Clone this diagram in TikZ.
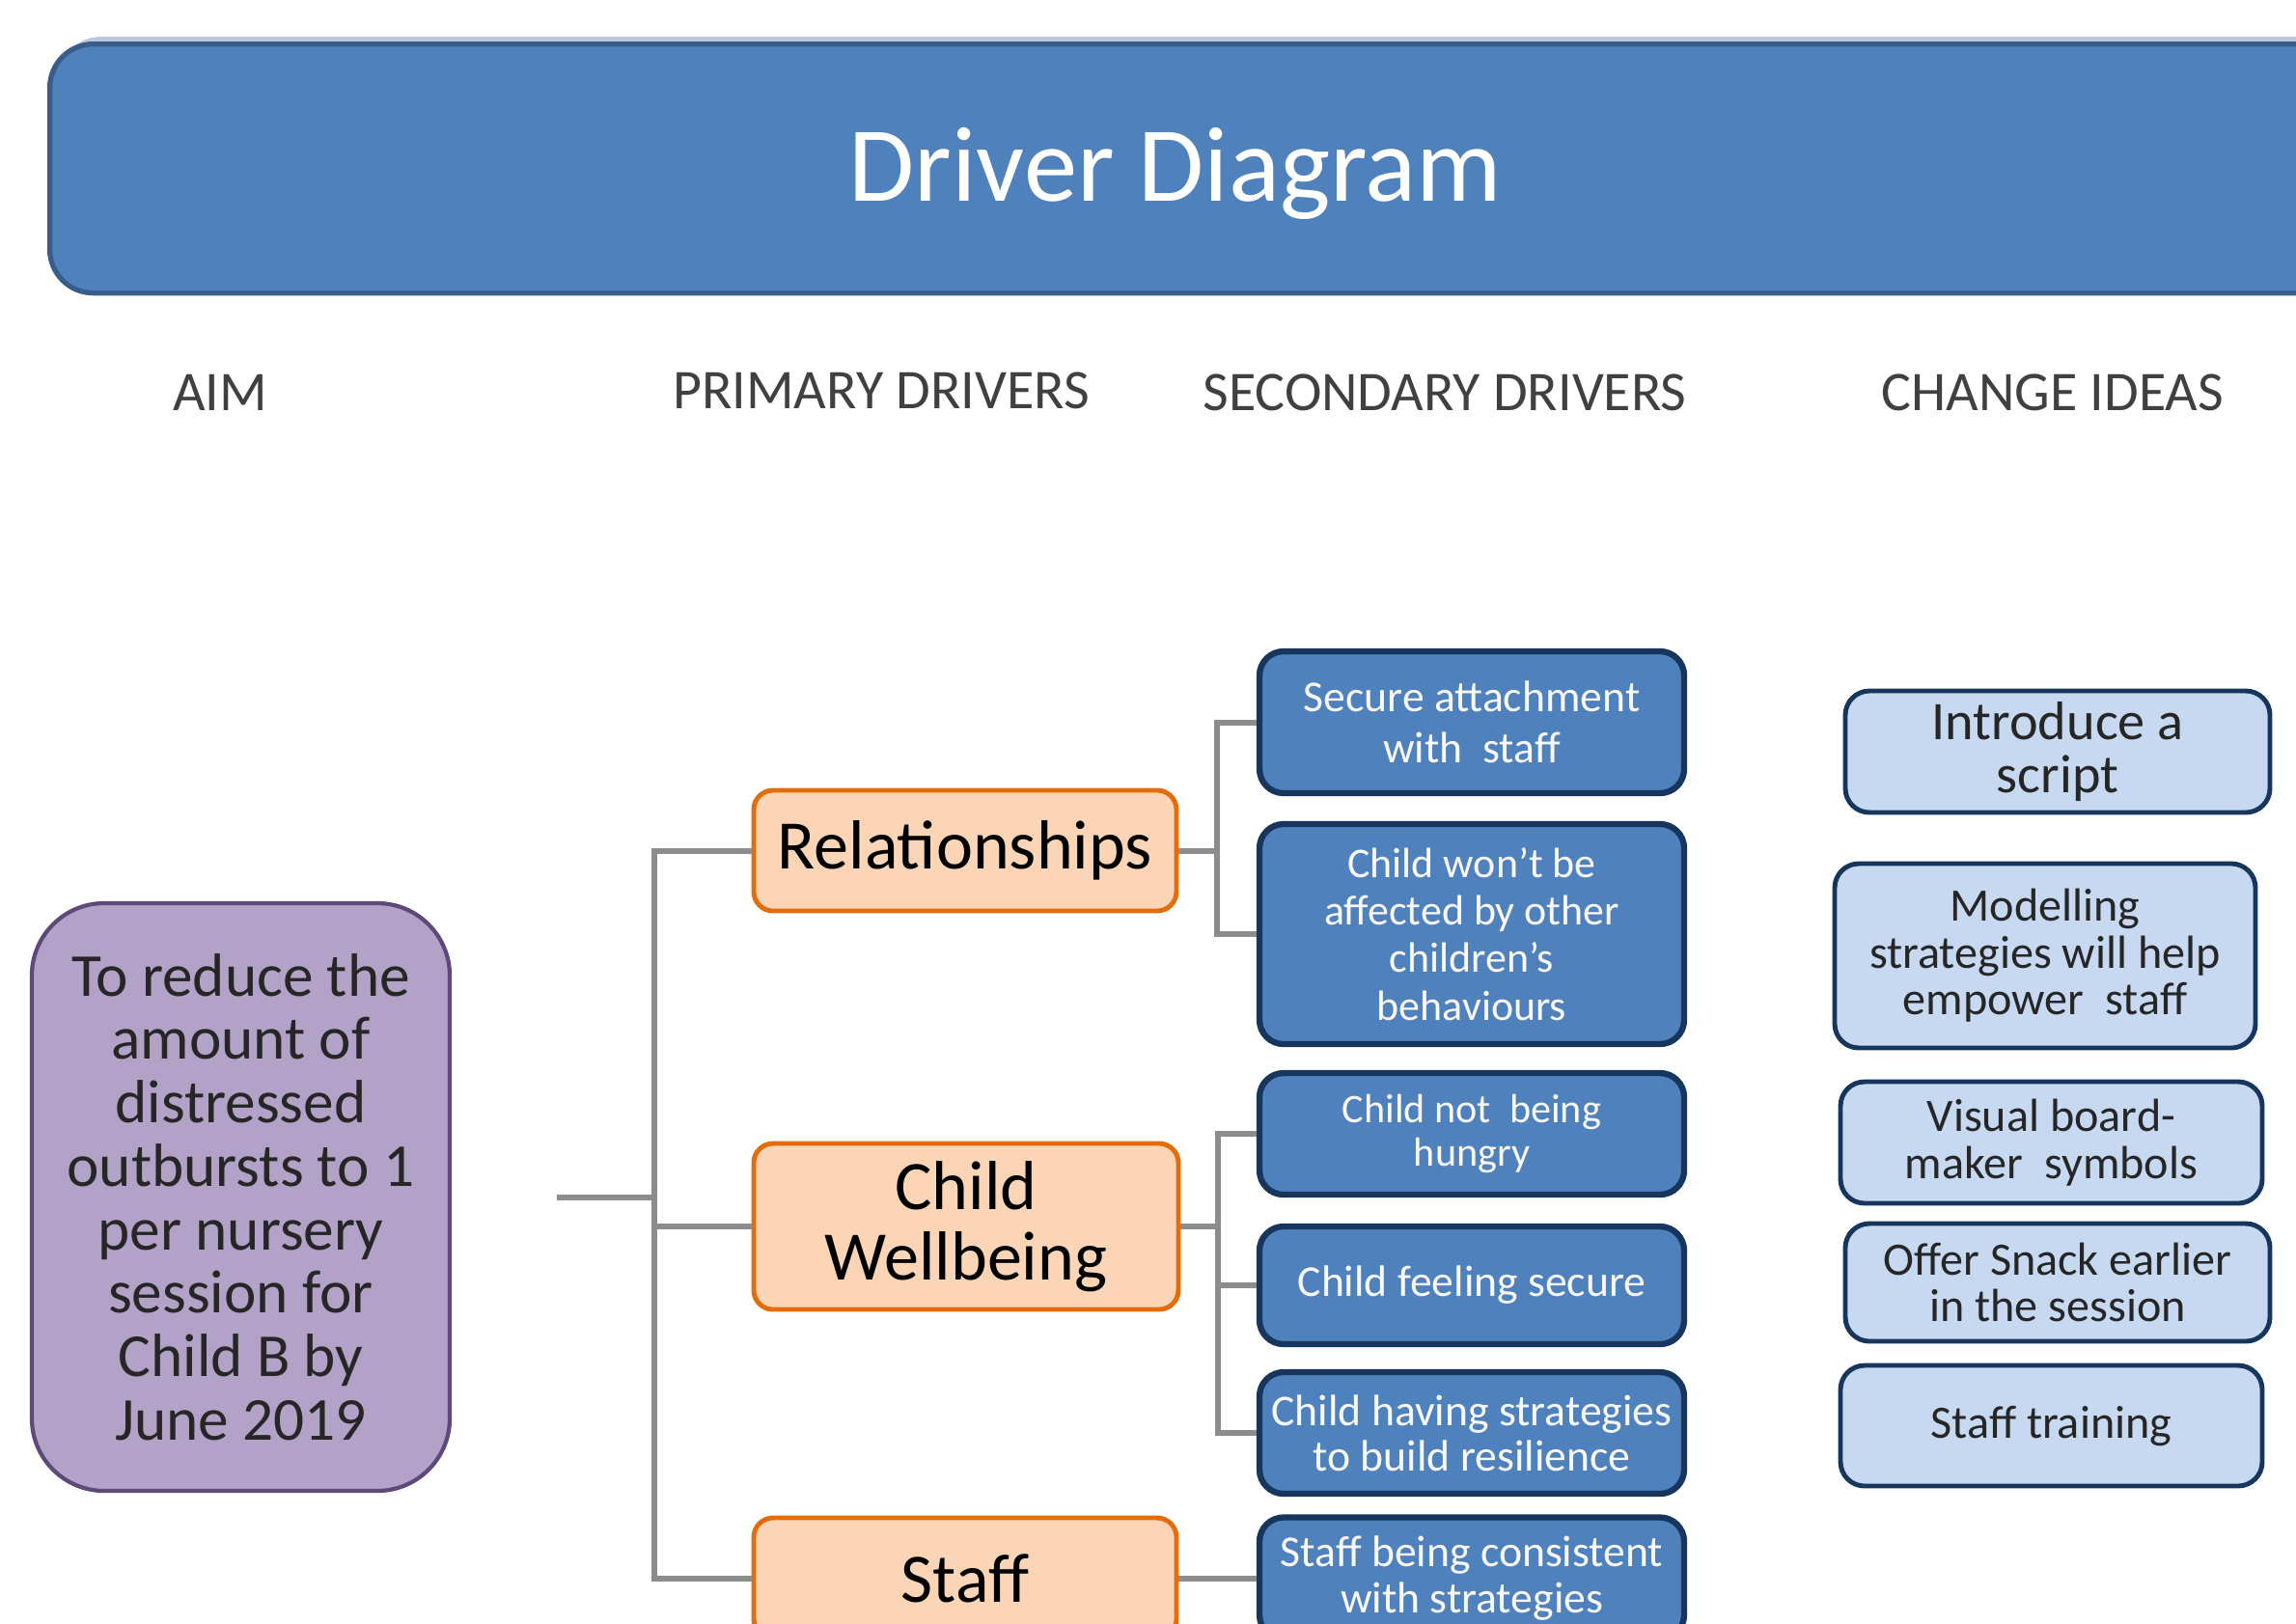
\documentclass[tikz,border=0pt]{standalone}
\usepackage{fontspec}
\setmainfont{Carlito}
\definecolor{titlefill}{HTML}{4F81BD}
\definecolor{titleline}{HTML}{385D8A}
\definecolor{titleglow}{HTML}{B9C8DC}
\definecolor{secfill}{HTML}{4F81BD}
\definecolor{navyline}{HTML}{17365D}
\definecolor{ideafill}{HTML}{C6D9F1}
\definecolor{primfill}{HTML}{FBD5B5}
\definecolor{primline}{HTML}{E46C0A}
\definecolor{aimfill}{HTML}{B2A2C7}
\definecolor{aimline}{HTML}{5F497A}
\definecolor{connline}{HTML}{8C8C8C}
\definecolor{headtext}{HTML}{404040}
\definecolor{darktext}{HTML}{262626}
\tikzset{
  basebox/.style={rectangle, align=center, inner sep=0pt},
  aimbox/.style={basebox, draw=aimline, fill=aimfill, line width=1.2pt, rounded corners=0.75cm, text=darktext, font=\fontsize{18}{18.7}\selectfont},
  primbox/.style={basebox, draw=primline, fill=primfill, line width=1.4pt, rounded corners=0.2cm, text=black, font=\fontsize{20.5}{20.8}\selectfont},
  secbox/.style={basebox, draw=navyline, fill=secfill, line width=1.8pt, rounded corners=0.25cm, text=white!95!gray, font=\fontsize{13}{15}\selectfont},
  ideabox/.style={basebox, draw=navyline, fill=ideafill, line width=1.4pt, rounded corners=0.25cm, text=darktext, font=\fontsize{13.7}{13.8}\selectfont},
  header/.style={text=headtext, font=\fontsize{16.5}{18}\selectfont, inner sep=0pt},
  conn/.style={draw=connline, line width=1.7pt}
}
\begin{document}
\begin{tikzpicture}
\useasboundingbox (0,0) rectangle (23.79,-16.82);
\clip (0,0) rectangle (23.79,-16.82);
% title banner
\fill[titleglow, rounded corners=0.45cm] (0.6,-0.38) rectangle (24.4,-2.9);
\node[basebox, draw=titleline, fill=titlefill, line width=1.5pt, rounded corners=0.45cm,
      minimum width=23.9cm, minimum height=2.58cm, anchor=north west] (banner) at (0.49,-0.43) {};
\node[text=white, font=\fontsize{31.5}{34}\selectfont, inner sep=0pt] (title) at (12.18,-1.80) {Driver Diagram};
% headers
\node[header] (haim) at (2.28,-4.07) {AIM};
\node[header] (hprim) at (9.13,-4.05) {PRIMARY DRIVERS};
\node[header] (hsec) at (14.97,-4.07) {SECONDARY DRIVERS};
\node[header] (hidea) at (21.27,-4.07) {CHANGE IDEAS};
% aim
\node[aimbox, minimum width=4.33cm, minimum height=6.09cm] (aim) at (2.495,-12.405)
  {To reduce the\\amount of\\distressed\\outbursts to 1\\per nursery\\session for\\Child B by\\June 2019};
% primary drivers
\node[primbox, minimum width=4.38cm, minimum height=1.25cm] (rel) at (10.0,-8.815) {Relationships};
\node[primbox, minimum width=4.40cm, minimum height=1.72cm] (well) at (10.01,-12.71) {Child\\Wellbeing};
\node[primbox, minimum width=4.38cm, minimum height=1.25cm] (staff) at (10.0,-16.355) {Staff};
% secondary drivers
\node[secbox, minimum width=4.40cm, minimum height=1.47cm] (s1) at (15.25,-7.485) {Secure attachment\\with\ \ staff};
\node[secbox, minimum width=4.40cm, minimum height=2.28cm, font=\fontsize{12.5}{14}\selectfont] (s2) at (15.25,-9.68) {Child won't be\\affected by other\\children's\\behaviours};
\node[secbox, minimum width=4.40cm, minimum height=1.26cm, font=\fontsize{12}{13}\selectfont] (s3) at (15.25,-11.75) {Child not\ \ being\\hungry};
\node[secbox, minimum width=4.40cm, minimum height=1.22cm] (s4) at (15.25,-13.32) {Child feeling secure};
\node[secbox, minimum width=4.40cm, minimum height=1.26cm, font=\fontsize{13}{13.5}\selectfont] (s5) at (15.25,-14.85) {Child having strategies\\to build resilience};
\node[secbox, minimum width=4.40cm, minimum height=1.26cm, font=\fontsize{13}{13.5}\selectfont] (s6) at (15.25,-16.355) {Staff being consistent\\with strategies};
% change ideas
\node[ideabox, minimum width=4.40cm, minimum height=1.26cm, font=\fontsize{16}{15.5}\selectfont] (c1) at (21.32,-7.79) {Introduce a\\script};
\node[ideabox, minimum width=4.36cm, minimum height=1.91cm] (c2) at (21.19,-9.905) {Modelling\\strategies will help\\empower\ \ staff};
\node[ideabox, minimum width=4.37cm, minimum height=1.26cm] (c3) at (21.255,-11.84) {Visual board-\\maker\ \ symbols};
\node[ideabox, minimum width=4.40cm, minimum height=1.22cm] (c4) at (21.32,-13.29) {Offer Snack earlier\\in the session};
\node[ideabox, minimum width=4.37cm, minimum height=1.25cm] (c5) at (21.255,-14.775) {Staff training};
% connectors
\coordinate (aimout) at (5.77,-12.41);
\coordinate (trunk) at (6.78,-12.41);
\draw[conn] (aimout) -- (trunk);
\draw[conn] (rel.west) -| (6.78,-12.41) |- (staff.west);
\draw[conn] (well.west) -- (6.78,-12.71);
\draw[conn] (rel.east) -- (12.61,-8.815);
\draw[conn] (s1.west) -| (12.61,-8.815) |- (s2.west);
\draw[conn] (well.east) -- (12.62,-12.71);
\draw[conn] (s3.west) -| (12.62,-12.71) |- (s5.west);
\draw[conn] (s4.west) -- (12.62,-13.32);
\draw[conn] (staff.east) -- (s6.west);
\end{tikzpicture}
\end{document}
